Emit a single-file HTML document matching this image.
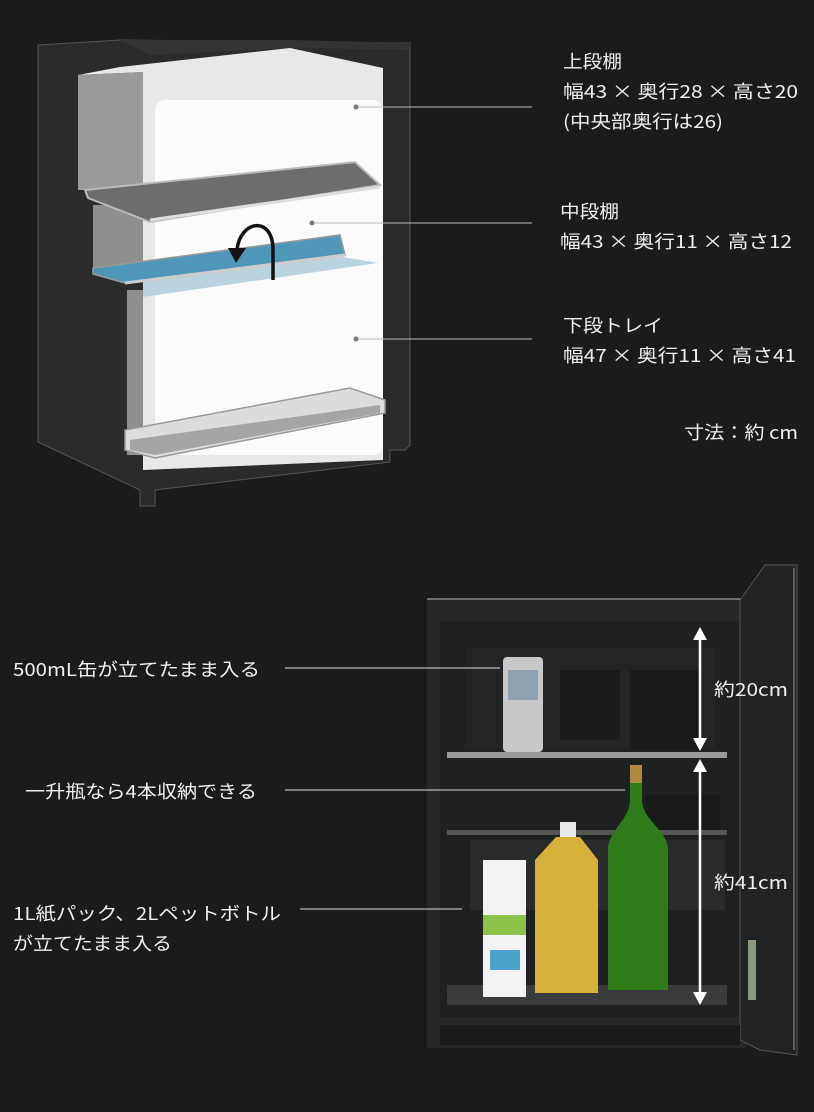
<!DOCTYPE html>
<html><head><meta charset="utf-8"><style>
html,body{margin:0;padding:0;background:#1b1b1b;}
svg{display:block}
text{font-family:"Noto Sans CJK JP","Liberation Sans",sans-serif;fill:#f0f0f0;font-size:18px}
</style></head><body>
<svg width="814" height="1112" viewBox="0 0 814 1112" xmlns="http://www.w3.org/2000/svg">
<rect width="814" height="1112" fill="#1b1b1b"/>
<polygon points="38,45 120,40 410,43 410,445 405,450 390,450 390,462 155,490 155,506 140,506 140,490 38,442" fill="#2b2b2b" stroke="#555" stroke-width="1"/>
<polygon points="120,40 290,40 410,43 410,50 300,48 150,55" fill="#333"/>
<polygon points="78,75 120,67 290,48 383,68 383,460 143,470 143,72" fill="#e8e8e8"/>
<rect x="155" y="100" width="228" height="355" rx="10" fill="#fbfbfb"/>
<polygon points="78,75 143,72 143,190 78,190" fill="#9a9a9a"/>
<polygon points="93,205 143,205 143,268 93,268" fill="#8f8f8f"/>
<polygon points="127,290 143,290 143,455 127,455" fill="#8f8f8f"/>
<polygon points="85,190 355,162 380,185 150,222 88,198" fill="#6d6d6d" stroke="#bbb" stroke-width="2"/>
<line x1="150" y1="220" x2="380" y2="187" stroke="#ddd" stroke-width="3"/>
<polygon points="143,280 343,257 378,263 143,297" fill="#b9d3df"/>
<polygon points="93,268 340,235 345,255 125,283 93,274" fill="#4f97b8" stroke="#999" stroke-width="1.5"/>
<line x1="125" y1="283" x2="345" y2="255" stroke="#ccc" stroke-width="3"/>
<path d="M273,280 L273,250 C273,215 240,220 237,250" fill="none" stroke="#111" stroke-width="3.5"/>
<polygon points="228,248 246,248 236,263" fill="#111"/>
<polygon points="125,430 350,388 385,400 385,413 155,458 125,450" fill="#dcdcdc" stroke="#999" stroke-width="1.5"/>
<polygon points="130,440 380,405 380,413 155,455 130,450" fill="#a5a5a5"/>
<g fill="#777"><circle cx="356" cy="107" r="2.5"/><circle cx="312" cy="223" r="2.5"/><circle cx="356" cy="339" r="2.5"/></g>
<g stroke="#bbb" stroke-width="1"><line x1="358" y1="107" x2="532" y2="107"/><line x1="314" y1="223" x2="532" y2="223"/><line x1="358" y1="339" x2="532" y2="339"/></g>
<text x="563" y="68" textLength="59" lengthAdjust="spacingAndGlyphs">上段棚</text>
<text x="563" y="98" textLength="235" lengthAdjust="spacingAndGlyphs">幅43 × 奥行28 × 高さ20</text>
<text x="563" y="128" textLength="160" lengthAdjust="spacingAndGlyphs">(中央部奥行は26)</text>
<text x="560" y="218" textLength="59" lengthAdjust="spacingAndGlyphs">中段棚</text>
<text x="560" y="248" textLength="232" lengthAdjust="spacingAndGlyphs">幅43 × 奥行11 × 高さ12</text>
<text x="563" y="332" textLength="100" lengthAdjust="spacingAndGlyphs">下段トレイ</text>
<text x="563" y="362" textLength="233" lengthAdjust="spacingAndGlyphs">幅47 × 奥行11 × 高さ41</text>
<text x="684" y="439" textLength="114" lengthAdjust="spacingAndGlyphs">寸法：約 cm</text>

<rect x="427" y="598" width="320" height="450" fill="#262728"/>
<line x1="427" y1="599" x2="745" y2="599" stroke="#888" stroke-width="1.5"/>
<rect x="440" y="622" width="300" height="395" fill="#1f2021"/>
<rect x="465" y="648" width="250" height="100" fill="#232425"/>
<rect x="560" y="670" width="60" height="70" fill="#1a1b1c"/>
<rect x="630" y="670" width="70" height="80" fill="#1a1b1c"/>
<polygon points="740,600 765,565 797,565 797,1055 760,1050 740,1040" fill="#222324" stroke="#555"/>
<line x1="794" y1="568" x2="794" y2="1050" stroke="#999" stroke-width="1"/>
<rect x="748" y="940" width="8" height="60" fill="#8a9a80"/>
<rect x="447" y="752" width="280" height="6" fill="#9a9a9a"/>
<rect x="447" y="830" width="280" height="5" fill="#555"/>
<rect x="470" y="840" width="255" height="70" fill="#2a2b2c"/>
<rect x="645" y="795" width="75" height="35" fill="#18191a"/>
<rect x="447" y="985" width="280" height="20" fill="#3a3b3c"/>
<rect x="440" y="1025" width="300" height="20" fill="#1a1a1a"/>
<rect x="503" y="657" width="40" height="95" rx="4" fill="#c8c8c8"/>
<rect x="508" y="670" width="30" height="30" fill="#8fa0b0"/>
<path d="M630,765 L642,765 L642,800 C642,820 668,830 668,850 L668,990 L608,990 L608,850 C608,830 630,820 630,800 Z" fill="#2f7d1a"/>
<rect x="630" y="765" width="12" height="18" fill="#b08a3a"/>
<rect x="560" y="822" width="16" height="15" fill="#e8e8e8"/>
<path d="M556,837 L580,837 L598,860 L598,993 L535,993 L535,860 Z" fill="#d7b23a"/>
<rect x="483" y="860" width="43" height="137" fill="#f2f2f2"/>
<rect x="483" y="915" width="43" height="20" fill="#8bc34a"/>
<rect x="490" y="950" width="30" height="20" fill="#4aa3c8"/>
<g stroke="#fff" stroke-width="2.5"><line x1="700" y1="635" x2="700" y2="742"/><line x1="700" y1="768" x2="700" y2="997"/></g>
<g fill="#fff">
<polygon points="693,640 707,640 700,627"/><polygon points="693,738 707,738 700,751"/>
<polygon points="693,772 707,772 700,759"/><polygon points="693,992 707,992 700,1005"/></g>
<text x="714" y="696" textLength="74" lengthAdjust="spacingAndGlyphs">約20cm</text>
<text x="714" y="889" textLength="74" lengthAdjust="spacingAndGlyphs">約41cm</text>
<g stroke="#ddd" stroke-width="1"><line x1="285" y1="668" x2="500" y2="668"/><line x1="285" y1="790" x2="625" y2="790"/><line x1="300" y1="909" x2="462" y2="909"/></g>
<text x="13" y="676" textLength="247" lengthAdjust="spacingAndGlyphs">500mL缶が立てたまま入る</text>
<text x="25" y="798" textLength="232" lengthAdjust="spacingAndGlyphs">一升瓶なら4本収納できる</text>
<text x="13" y="920" textLength="268" lengthAdjust="spacingAndGlyphs">1L紙パック、2Lペットボトル</text>
<text x="13" y="950" textLength="159" lengthAdjust="spacingAndGlyphs">が立てたまま入る</text>
</svg>
</body></html>
